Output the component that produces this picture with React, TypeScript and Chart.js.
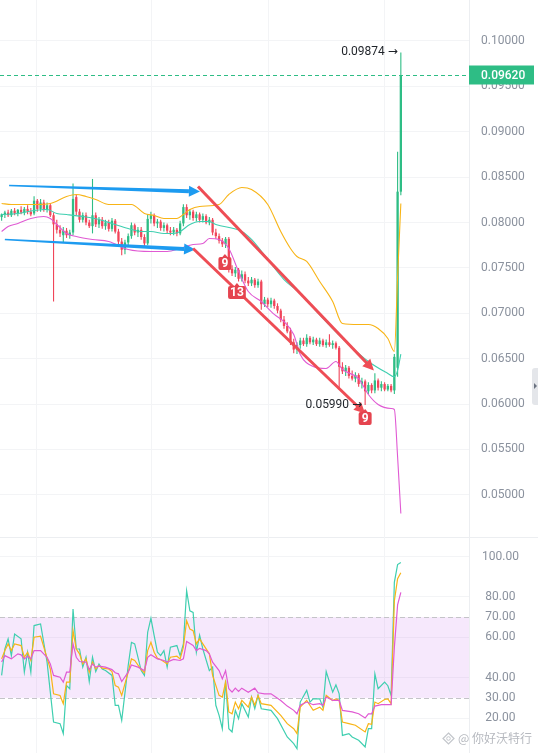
import React, { useEffect, useRef } from 'react';
import { Chart, registerables } from 'chart.js';

Chart.register(...registerables);

// ---------------- data ----------------
const opens = [
  0.0806, 0.0809, 0.0811, 0.0808, 0.0813, 0.0810, 0.0814, 0.0811, 0.0815, 0.0812,
  0.0810, 0.0824, 0.0815, 0.0822, 0.0814, 0.0819, 0.0808, 0.0798, 0.0792, 0.0786,
  0.0791, 0.0786, 0.0789, 0.0828, 0.0812, 0.0803, 0.0808, 0.0800, 0.0796, 0.0808,
  0.0798, 0.0803, 0.0796, 0.0800, 0.0793, 0.0802, 0.0790, 0.0779, 0.0770, 0.0778,
  0.0785, 0.0797, 0.0789, 0.0792, 0.0784, 0.0777, 0.0804, 0.0808, 0.0799, 0.0801,
  0.0794, 0.0797, 0.0791, 0.0789, 0.0792, 0.0788, 0.0799, 0.0817, 0.0808, 0.0812,
  0.0805, 0.0809, 0.0803, 0.0807, 0.0800, 0.0803, 0.0789, 0.0785, 0.0780, 0.0776,
  0.0782, 0.0749, 0.0744, 0.0748, 0.0738, 0.0743, 0.0736, 0.0733, 0.0737, 0.0731,
  0.0735, 0.0710, 0.0715, 0.0710, 0.0714, 0.0708, 0.0703, 0.0693, 0.0686, 0.0680,
  0.0668, 0.0660, 0.0665, 0.0670, 0.0666, 0.0673, 0.0668, 0.0671, 0.0666, 0.0670,
  0.0665, 0.0668, 0.0665, 0.0667, 0.0662, 0.0641, 0.0636, 0.0640, 0.0631, 0.0628,
  0.0632, 0.0622, 0.0625, 0.0614, 0.0621, 0.0615, 0.0626, 0.0618, 0.0622, 0.0616,
  0.0620, 0.0615, 0.0640, 0.0834,
];
const highs = [
  0.0810, 0.0813, 0.0814, 0.0815, 0.0816, 0.0815, 0.0818, 0.0817, 0.0819, 0.0816,
  0.0829, 0.0826, 0.0826, 0.0825, 0.0822, 0.0821, 0.0811, 0.0803, 0.0797, 0.0795,
  0.0794, 0.0792, 0.0843, 0.0831, 0.0815, 0.0811, 0.0811, 0.0803, 0.0848, 0.0811,
  0.0806, 0.0806, 0.0803, 0.0803, 0.0805, 0.0804, 0.0793, 0.0783, 0.0781, 0.0788,
  0.0800, 0.0799, 0.0795, 0.0795, 0.0787, 0.0809, 0.0812, 0.0810, 0.0804, 0.0803,
  0.0800, 0.0799, 0.0795, 0.0795, 0.0794, 0.0802, 0.0820, 0.0820, 0.0815, 0.0814,
  0.0812, 0.0811, 0.0810, 0.0809, 0.0806, 0.0805, 0.0793, 0.0788, 0.0783, 0.0784,
  0.0784, 0.0753, 0.0751, 0.0750, 0.0747, 0.0746, 0.0740, 0.0740, 0.0739, 0.0738,
  0.0737, 0.0718, 0.0717, 0.0717, 0.0716, 0.0711, 0.0705, 0.0697, 0.0690, 0.0684,
  0.0672, 0.0668, 0.0673, 0.0673, 0.0677, 0.0675, 0.0674, 0.0673, 0.0673, 0.0672,
  0.0671, 0.0677, 0.0670, 0.0669, 0.0664, 0.0646, 0.0643, 0.0642, 0.0637, 0.0635,
  0.0634, 0.0629, 0.0627, 0.0624, 0.0623, 0.0634, 0.0628, 0.0625, 0.0624, 0.0622,
  0.0622, 0.0655, 0.0878, 0.09874,
];
const lows = [
  0.0802, 0.0805, 0.0806, 0.0806, 0.0808, 0.0807, 0.0809, 0.0808, 0.0809, 0.0807,
  0.0808, 0.0812, 0.0812, 0.0812, 0.0811, 0.0806, 0.0713, 0.0788, 0.0784, 0.0778,
  0.0783, 0.0782, 0.0786, 0.0808, 0.0800, 0.0800, 0.0797, 0.0794, 0.0788, 0.0795,
  0.0794, 0.0793, 0.0792, 0.0790, 0.0790, 0.0788, 0.0776, 0.0764, 0.0765, 0.0774,
  0.0782, 0.0786, 0.0784, 0.0781, 0.0774, 0.0775, 0.0799, 0.0796, 0.0794, 0.0791,
  0.0790, 0.0788, 0.0786, 0.0786, 0.0785, 0.0786, 0.0796, 0.0805, 0.0803, 0.0802,
  0.0801, 0.0800, 0.0800, 0.0798, 0.0797, 0.0786, 0.0782, 0.0777, 0.0773, 0.0772,
  0.0745, 0.0741, 0.0740, 0.0735, 0.0735, 0.0733, 0.0730, 0.0730, 0.0728, 0.0728,
  0.0704, 0.0707, 0.0707, 0.0706, 0.0705, 0.0700, 0.0690, 0.0683, 0.0678, 0.0665,
  0.0656, 0.0655, 0.0661, 0.0664, 0.0663, 0.0666, 0.0665, 0.0664, 0.0663, 0.0663,
  0.0662, 0.0663, 0.0661, 0.0660, 0.0616, 0.0633, 0.0631, 0.0628, 0.0626, 0.0624,
  0.0619, 0.0617, 0.0599, 0.0611, 0.0612, 0.0612, 0.0615, 0.0614, 0.0614, 0.0614,
  0.0613, 0.0611, 0.0630, 0.0830,
];
const closes = [
  0.0809, 0.0811, 0.0808, 0.0813, 0.0810, 0.0814, 0.0811, 0.0815, 0.0812, 0.0809,
  0.0824, 0.0815, 0.0822, 0.0814, 0.0819, 0.0808, 0.0798, 0.0792, 0.0788, 0.0791,
  0.0786, 0.0789, 0.0826, 0.0812, 0.0803, 0.0808, 0.0800, 0.0796, 0.0808, 0.0798,
  0.0803, 0.0796, 0.0800, 0.0793, 0.0802, 0.0790, 0.0779, 0.0770, 0.0778, 0.0785,
  0.0797, 0.0789, 0.0792, 0.0784, 0.0777, 0.0804, 0.0808, 0.0799, 0.0801, 0.0794,
  0.0797, 0.0791, 0.0789, 0.0792, 0.0788, 0.0799, 0.0817, 0.0808, 0.0812, 0.0805,
  0.0809, 0.0803, 0.0807, 0.0800, 0.0803, 0.0789, 0.0785, 0.0780, 0.0776, 0.0782,
  0.0749, 0.0744, 0.0748, 0.0738, 0.0743, 0.0736, 0.0733, 0.0737, 0.0731, 0.0735,
  0.0710, 0.0715, 0.0710, 0.0714, 0.0708, 0.0703, 0.0693, 0.0686, 0.0680, 0.0668,
  0.0660, 0.0665, 0.0670, 0.0666, 0.0673, 0.0668, 0.0671, 0.0666, 0.0670, 0.0665,
  0.0668, 0.0665, 0.0667, 0.0662, 0.0641, 0.0636, 0.0640, 0.0631, 0.0628, 0.0632,
  0.0622, 0.0625, 0.0614, 0.0621, 0.0615, 0.0626, 0.0618, 0.0622, 0.0616, 0.0620,
  0.0615, 0.0652, 0.0834, 0.0962,
];

// Bollinger bands: [candle index, price]
const bollUpper = [
  [0, 0.0821], [3, 0.08199], [6, 0.08199], [10, 0.08199], [15, 0.0821], [20, 0.08287],
  [23, 0.08309], [26, 0.08287], [29, 0.08254], [33, 0.08199], [37, 0.08199], [40, 0.08199],
  [44, 0.081], [47, 0.08077], [50, 0.08045], [54, 0.08045], [56, 0.08088], [58, 0.08143],
  [61, 0.08177], [67, 0.08199], [70, 0.08309], [74, 0.08386], [77, 0.08364], [82, 0.08199],
  [86, 0.07901], [89, 0.07714], [91, 0.07626], [94, 0.07571], [98, 0.0735], [102, 0.0713],
  [105, 0.06887], [110, 0.06876], [113, 0.06876], [116, 0.06832], [119, 0.06722],
  [121, 0.0658], [122, 0.074], [123, 0.0821],
];
const bollMiddle = [
  [0, 0.08088], [5, 0.08099], [10, 0.08132], [14, 0.08143], [17, 0.08099], [20, 0.08088],
  [25, 0.08066], [30, 0.08033], [34, 0.07989], [39, 0.07934], [43, 0.07901], [46, 0.07901],
  [50, 0.07879], [53, 0.07879], [55, 0.07901], [58, 0.07978], [61, 0.08011], [64, 0.08011],
  [66, 0.07978], [74, 0.07901], [77, 0.07813], [82, 0.07593], [87, 0.07372], [92, 0.07218],
  [97, 0.0702], [102, 0.06832], [107, 0.06656], [113, 0.06469], [119, 0.06337],
  [121, 0.063], [122, 0.0637], [123, 0.0655],
];
const bollLower = [
  [0, 0.07901], [2, 0.07956], [5, 0.07989], [9, 0.08044], [13, 0.08066], [15, 0.08044],
  [17, 0.07978], [20, 0.07879], [23, 0.07846], [28, 0.07813], [33, 0.07791], [39, 0.07703],
  [46, 0.07681], [51, 0.07681], [55, 0.07714], [59, 0.07758], [62, 0.07769], [64, 0.07824],
  [67, 0.07813], [70, 0.07714], [73, 0.0746], [76, 0.0724], [80, 0.0713], [84, 0.06987],
  [87, 0.06909], [90, 0.06766], [92, 0.06546], [96, 0.06414], [100, 0.06392], [103, 0.06469],
  [105, 0.06381], [110, 0.06281], [113, 0.06105], [116, 0.05995], [120, 0.05951],
  [121, 0.0594], [122, 0.0542], [123, 0.04794],
];

// RSI lines: [candle index, value]
const rsiFast = [
  [0, 41.1], [1, 54.2], [2, 59.2], [3, 50.9], [4, 61.6], [6, 59.2], [7, 42.7], [8, 52.6], [9, 42.7],
  [10, 65.8], [12, 66.6], [14, 47.7], [15, 32.8], [16, 18.0], [18, 17.2], [19, 12.3], [20, 36.1],
  [21, 34.5], [22, 74.0], [23, 54.2], [24, 54.2], [25, 45.2], [26, 50.1], [27, 38.1], [28, 50.1],
  [29, 43.0], [30, 46.8], [31, 44.3], [32, 43.5], [34, 41.1], [35, 26.3], [36, 26.3], [37, 18.8],
  [39, 46.0], [40, 57.5], [41, 56.7], [43, 43.5], [44, 41.1], [45, 62.5], [46, 69.4], [47, 60.8],
  [48, 52.6], [49, 50.9], [50, 53.4], [51, 45.2], [52, 55.1], [54, 55.9], [55, 50.9], [56, 56.7],
  [57, 83.1], [58, 73.1], [59, 72.3], [60, 52.6], [61, 61.1], [62, 54.2], [64, 43.5], [65, 45.2],
  [66, 26.3], [67, 21.3], [68, 14.7], [69, 38.6], [70, 14.7], [71, 13.1], [72, 23.8], [73, 19.7],
  [74, 27.1], [76, 20.5], [77, 30.4], [78, 24.6], [79, 31.2], [80, 24.6], [83, 23.8], [85, 19.7],
  [88, 10.6], [90, 7.3], [91, 4.8], [92, 27.9], [94, 33.7], [95, 27.9], [96, 29.5], [98, 29.5],
  [99, 25.4], [100, 43.0], [102, 32.8], [103, 36.4], [104, 32.0], [105, 11.4], [107, 12.3],
  [108, 10.6], [110, 9.0], [112, 5.7], [113, 14.7], [114, 14.7], [115, 41.9], [116, 34.5],
  [118, 37.8], [119, 36.0], [120, 31.2], [121, 87.2], [122, 96.0], [123, 97.0],
];
const rsiMid = [
  [0, 49.3], [1, 53.4], [2, 56.7], [3, 53.4], [4, 56.7], [6, 55.9], [7, 50.1], [8, 52.6], [9, 48.5],
  [10, 60.0], [12, 60.5], [13, 55.1], [15, 44.3], [16, 32.0], [18, 31.2], [19, 27.1], [20, 37.8],
  [21, 37.8], [22, 63.3], [23, 54.2], [24, 51.8], [25, 46.8], [26, 49.3], [27, 42.7], [28, 47.7],
  [29, 44.3], [30, 46.0], [31, 44.7], [33, 44.3], [34, 43.0], [35, 36.1], [36, 35.3], [37, 31.2],
  [39, 42.7], [40, 49.3], [41, 48.5], [43, 44.0], [44, 42.4], [45, 53.4], [46, 57.5], [47, 52.6],
  [48, 49.6], [49, 49.0], [51, 46.8], [52, 50.1], [54, 50.6], [55, 49.3], [56, 55.1], [57, 68.2],
  [58, 64.1], [59, 63.3], [60, 56.7], [61, 59.2], [62, 56.7], [64, 51.8], [65, 41.1], [67, 31.2],
  [68, 30.4], [69, 37.8], [70, 23.0], [71, 22.1], [72, 27.9], [73, 24.6], [74, 28.7], [76, 25.4],
  [77, 30.4], [78, 26.3], [79, 31.2], [80, 27.1], [83, 26.3], [86, 21.3], [88, 17.2], [90, 14.7],
  [91, 12.3], [92, 25.4], [94, 28.7], [96, 23.8], [98, 25.4], [99, 23.8], [100, 31.2], [102, 28.7],
  [103, 29.5], [104, 28.7], [105, 18.0], [107, 17.2], [109, 16.4], [112, 13.1], [113, 17.2],
  [114, 16.9], [115, 27.9], [116, 27.1], [118, 29.2], [119, 29.5], [120, 27.1], [121, 78.0],
  [122, 89.0], [123, 92.0],
];
const rsiSlow = [
  [0, 47.7], [1, 50.9], [3, 49.3], [5, 51.8], [6, 51.3], [7, 49.3], [8, 50.6], [9, 49.3], [10, 53.4],
  [12, 53.4], [14, 50.1], [15, 46.8], [16, 41.1], [18, 40.2], [19, 37.8], [20, 42.7], [21, 42.7],
  [22, 56.7], [23, 50.1], [24, 48.0], [26, 47.7], [27, 44.0], [28, 46.8], [29, 45.2], [30, 45.7],
  [32, 45.2], [34, 44.0], [35, 42.4], [36, 41.9], [37, 38.1], [39, 42.7], [40, 46.3], [42, 45.2],
  [44, 43.5], [45, 50.1], [46, 51.3], [48, 49.3], [50, 48.5], [51, 47.7], [53, 49.0], [55, 48.5],
  [56, 49.3], [57, 57.9], [59, 55.9], [60, 53.4], [61, 54.5], [63, 53.4], [64, 51.8], [65, 47.7],
  [67, 43.5], [68, 39.4], [69, 43.5], [70, 34.5], [71, 32.8], [72, 34.8], [73, 33.2], [74, 34.8],
  [76, 32.8], [78, 34.8], [79, 32.5], [81, 32.0], [83, 32.0], [86, 28.7], [88, 25.9], [90, 23.8],
  [91, 22.1], [92, 26.3], [94, 27.9], [96, 26.6], [98, 27.1], [99, 26.3], [100, 30.4], [102, 28.7],
  [104, 28.7], [105, 23.8], [108, 23.0], [110, 22.1], [112, 20.0], [113, 22.1], [114, 22.1],
  [115, 25.9], [117, 26.6], [120, 26.6], [121, 55.0], [122, 76.0], [123, 82.2],
];

const priceTicks = [0.05, 0.055, 0.06, 0.065, 0.07, 0.075, 0.08, 0.085, 0.09, 0.095, 0.1];
const rsiTicks = [20, 30, 40, 60, 70, 80, 100];
const rsiBand = [30, 70];
const timeGrid = [10.8, 46.2, 82.1, 118.1];
const lastPrice = 0.0962;

const extremes = [
  { idx: 123, price: 0.09874, text: '0.09874' },
  { idx: 112, price: 0.0599, text: '0.05990' },
];
// drawn trend arrows, in data units [index, price]
const trendLines = [
  { from: [2.3, 0.08408], to: [61.1, 0.08342], kind: 'blue' },
  { from: [1.0, 0.07813], to: [59.6, 0.07703], kind: 'blue' },
  { from: [60.5, 0.08397], to: [114.7, 0.0637], kind: 'red' },
  { from: [59.0, 0.07714], to: [112.0, 0.05896], kind: 'red' },
];
const tdTags = [
  { idx: 68.8, price: 0.07548, text: '9' },
  { idx: 72.5, price: 0.07229, text: '13' },
  { idx: 112, price: 0.05841, text: '9' },
];

const PRICE_MIN = 0.04535;
const PRICE_MAX = 0.104517;
const RSI_MIN = 2.67;
const RSI_MAX = 109.67;
const X_MIN = -0.5;
const X_MAX = 144;

// ---------------- style ----------------
const UP = '#2ebd85';
const DOWN = '#f0465a';
const YELLOW = '#f8b416';
const TEAL = '#3fcfb0';
const PINK = '#e05ad3';
const BLUE = '#1d9bf0';
const RED_LINE = '#ee4d55';
const TAG = '#e5444f';
const GRID = '#f3f4f6';
const AXIS_LINE = '#eceef1';
const TICK = '#8b929e';
const FONT = "Roboto, 'DejaVu Sans', sans-serif";

Chart.defaults.font.family = FONT;

function drawArrow(ctx: any, x0: number, y0: number, x1: number, y1: number, kind: string) {
  const ang = Math.atan2(y1 - y0, x1 - x0);
  const cos = Math.cos(ang);
  const sin = Math.sin(ang);
  const headLen = 11;
  const headHalf = 5.5;
  const bx = x1 - headLen * cos;
  const by = y1 - headLen * sin;
  const color = kind === 'blue' ? BLUE : RED_LINE;
  ctx.fillStyle = color;
  if (kind === 'blue') {
    const w0 = 0.8;
    const w1 = 2.0;
    ctx.beginPath();
    ctx.moveTo(x0 + w0 * sin, y0 - w0 * cos);
    ctx.lineTo(bx + w1 * sin, by - w1 * cos);
    ctx.lineTo(bx - w1 * sin, by + w1 * cos);
    ctx.lineTo(x0 - w0 * sin, y0 + w0 * cos);
    ctx.closePath();
    ctx.fill();
  } else {
    ctx.strokeStyle = color;
    ctx.lineWidth = 3;
    ctx.lineCap = 'butt';
    ctx.beginPath();
    ctx.moveTo(x0, y0);
    ctx.lineTo(bx + 2 * cos, by + 2 * sin);
    ctx.stroke();
  }
  ctx.beginPath();
  ctx.moveTo(x1, y1);
  ctx.lineTo(bx + headHalf * sin, by - headHalf * cos);
  ctx.lineTo(bx - headHalf * sin, by + headHalf * cos);
  ctx.closePath();
  ctx.fill();
}

function roundRect(ctx: any, x: number, y: number, w: number, h: number, r: number) {
  ctx.beginPath();
  ctx.moveTo(x + r, y);
  ctx.lineTo(x + w - r, y);
  ctx.quadraticCurveTo(x + w, y, x + w, y + r);
  ctx.lineTo(x + w, y + h - r);
  ctx.quadraticCurveTo(x + w, y + h, x + w - r, y + h);
  ctx.lineTo(x + r, y + h);
  ctx.quadraticCurveTo(x, y + h, x, y + h - r);
  ctx.lineTo(x, y + r);
  ctx.quadraticCurveTo(x, y, x + r, y);
  ctx.closePath();
}

const mainOverlay = {
  id: 'mainOverlay',
  afterDraw(chart: any) {
    const { ctx, chartArea: a } = chart;
    const xs = chart.scales.x;
    const ys = chart.scales.y;
    ctx.save();
    ctx.beginPath();
    ctx.rect(a.left, a.top, a.right - a.left, a.bottom - a.top);
    ctx.clip();
    trendLines.forEach((t) => {
      drawArrow(
        ctx,
        xs.getPixelForValue(t.from[0]),
        ys.getPixelForValue(t.from[1]),
        xs.getPixelForValue(t.to[0]),
        ys.getPixelForValue(t.to[1]),
        t.kind,
      );
    });
    // TD sequential tags
    tdTags.forEach((t) => {
      const cx = xs.getPixelForValue(t.idx);
      const cy = ys.getPixelForValue(t.price);
      ctx.font = `bold 12px ${FONT}`;
      const tw = ctx.measureText(t.text).width;
      const w = Math.max(13, tw + 4);
      const h = 13;
      const x = cx - w / 2;
      const y = cy - h / 2;
      ctx.fillStyle = TAG;
      roundRect(ctx, x, y, w, h, 2);
      ctx.fill();
      ctx.beginPath();
      ctx.moveTo(cx - 3, y + 0.5);
      ctx.lineTo(cx, y - 3);
      ctx.lineTo(cx + 3, y + 0.5);
      ctx.closePath();
      ctx.fill();
      ctx.fillStyle = '#ffffff';
      ctx.textAlign = 'center';
      ctx.textBaseline = 'middle';
      ctx.fillText(t.text, cx, cy + 0.5);
    });
    // extreme price labels
    ctx.font = `12px ${FONT}`;
    ctx.fillStyle = '#1f2329';
    ctx.textAlign = 'right';
    ctx.textBaseline = 'middle';
    extremes.forEach((e) => {
      const x = xs.getPixelForValue(e.idx) - 3;
      const y = ys.getPixelForValue(e.price);
      ctx.fillText(`${e.text} →`, x, y);
    });
    // last price dashed line
    const ly = Math.round(ys.getPixelForValue(lastPrice)) + 0.5;
    ctx.strokeStyle = UP;
    ctx.lineWidth = 1;
    ctx.setLineDash([4, 3]);
    ctx.beginPath();
    ctx.moveTo(a.left, ly);
    ctx.lineTo(a.right, ly);
    ctx.stroke();
    ctx.setLineDash([]);
    ctx.restore();
    // last price box on axis
    ctx.save();
    ctx.fillStyle = UP;
    ctx.fillRect(a.right, ly - 10, 65, 19);
    ctx.fillStyle = '#ffffff';
    ctx.font = `500 12px ${FONT}`;
    ctx.textAlign = 'left';
    ctx.textBaseline = 'middle';
    ctx.fillText(lastPrice.toFixed(5), a.right + 12, ly);
    ctx.restore();
  },
};

const rsiOverlay = {
  id: 'rsiOverlay',
  beforeDatasetsDraw(chart: any) {
    const { ctx, chartArea: a } = chart;
    const ys = chart.scales.y;
    const yTop = ys.getPixelForValue(rsiBand[1]);
    const yBot = ys.getPixelForValue(rsiBand[0]);
    ctx.save();
    ctx.fillStyle = 'rgba(200,120,240,0.17)';
    ctx.fillRect(a.left, yTop, a.right - a.left, yBot - yTop);
    ctx.strokeStyle = '#c4c4c8';
    ctx.lineWidth = 1;
    ctx.setLineDash([5, 3]);
    rsiBand.forEach((v) => {
      const y = Math.round(ys.getPixelForValue(v)) + 0.5;
      ctx.beginPath();
      ctx.moveTo(a.left, y);
      ctx.lineTo(a.right, y);
      ctx.stroke();
    });
    ctx.restore();
  },
};

function xAxisOpts() {
  return {
    type: 'linear',
    min: X_MIN,
    max: X_MAX,
    offset: false,
    grid: { color: GRID, drawTicks: false, offset: false },
    border: { display: false },
    ticks: { display: false },
    afterBuildTicks: (s: any) => {
      s.ticks = timeGrid.map((v) => ({ value: v }));
    },
    afterFit: (s: any) => {
      s.height = 0;
      s.paddingLeft = 0;
      s.paddingRight = 0;
    },
  };
}

const toPts = (arr: number[][]) => arr.map(([x, y]) => ({ x, y }));

function buildMain(canvas: HTMLCanvasElement) {
  const idx = opens.map((_, i) => i);
  const colors = idx.map((i) => (closes[i] >= opens[i] ? UP : DOWN));
  const lineDs = (data: number[][], color: string) => ({
    type: 'line',
    data: toPts(data),
    borderColor: color,
    borderWidth: 1.1,
    pointRadius: 0,
    cubicInterpolationMode: 'monotone',
    fill: false,
    order: 0,
  });
  return new Chart(canvas, {
    type: 'bar',
    data: {
      datasets: [
        lineDs(bollUpper, YELLOW),
        lineDs(bollMiddle, TEAL),
        lineDs(bollLower, PINK),
        {
          type: 'bar',
          data: idx.map((i) => ({ x: i, y: [opens[i], closes[i]] })),
          backgroundColor: colors,
          barThickness: 2.3,
          grouped: false,
          inflateAmount: 0,
          order: 1,
        },
        {
          type: 'bar',
          data: idx.map((i) => ({ x: i, y: [lows[i], highs[i]] })),
          backgroundColor: colors,
          barThickness: 1.1,
          grouped: false,
          inflateAmount: 0,
          order: 2,
        },
      ],
    } as any,
    options: {
      responsive: false,
      animation: false,
      devicePixelRatio: 1,
      events: [],
      layout: { padding: 0 },
      plugins: { legend: { display: false }, tooltip: { enabled: false } },
      scales: {
        x: xAxisOpts(),
        y: {
          position: 'right',
          min: PRICE_MIN,
          max: PRICE_MAX,
          grid: { color: GRID, drawTicks: false },
          border: { display: true, color: AXIS_LINE },
          ticks: {
            color: TICK,
            font: { size: 12, family: FONT },
            padding: 12,
            callback: (v: any) => Number(v).toFixed(5),
          },
          afterBuildTicks: (s: any) => {
            s.ticks = priceTicks.map((v) => ({ value: v }));
          },
          afterFit: (s: any) => {
            s.width = 69;
            s.paddingTop = 0;
            s.paddingBottom = 0;
          },
        },
      },
    } as any,
    plugins: [mainOverlay],
  });
}

function buildRsi(canvas: HTMLCanvasElement) {
  const ds = (data: number[][], color: string, order: number) => ({
    data: toPts(data),
    borderColor: color,
    borderWidth: 1.2,
    pointRadius: 0,
    tension: 0,
    fill: false,
    order,
  });
  return new Chart(canvas, {
    type: 'line',
    data: {
      datasets: [ds(rsiSlow, PINK, 0), ds(rsiMid, YELLOW, 1), ds(rsiFast, TEAL, 2)],
    } as any,
    options: {
      responsive: false,
      animation: false,
      devicePixelRatio: 1,
      events: [],
      layout: { padding: 0 },
      plugins: { legend: { display: false }, tooltip: { enabled: false } },
      scales: {
        x: xAxisOpts(),
        y: {
          position: 'right',
          min: RSI_MIN,
          max: RSI_MAX,
          grid: {
            color: (c: any) => (c.tick && rsiBand.includes(c.tick.value) ? 'rgba(0,0,0,0)' : GRID),
            drawTicks: false,
          },
          border: { display: true, color: AXIS_LINE },
          ticks: {
            color: TICK,
            font: { size: 12, family: FONT },
            padding: 13,
            crossAlign: 'center',
            callback: (v: any) => Number(v).toFixed(2),
          },
          afterBuildTicks: (s: any) => {
            s.ticks = rsiTicks.map((v) => ({ value: v }));
          },
          afterFit: (s: any) => {
            s.width = 69;
            s.paddingTop = 0;
            s.paddingBottom = 0;
          },
        },
      },
    } as any,
    plugins: [rsiOverlay],
  });
}

export default function App() {
  const mainRef = useRef<HTMLCanvasElement>(null);
  const rsiRef = useRef<HTMLCanvasElement>(null);

  useEffect(() => {
    document.body.style.margin = '0';
    const charts: Chart[] = [];
    if (mainRef.current) charts.push(buildMain(mainRef.current));
    if (rsiRef.current) charts.push(buildRsi(rsiRef.current));
    return () => charts.forEach((c) => c.destroy());
  }, []);

  return (
    <div style={{ position: 'relative', width: 538, height: 753, background: '#ffffff', overflow: 'hidden' }}>
      <style>{'body{margin:0}'}</style>
      <canvas
        ref={mainRef}
        width={538}
        height={537}
        style={{ position: 'absolute', left: 0, top: 0, width: 538, height: 537 }}
      />
      <div style={{ position: 'absolute', left: 0, top: 537, width: 538, height: 1, background: AXIS_LINE }} />
      <canvas
        ref={rsiRef}
        width={538}
        height={216}
        style={{ position: 'absolute', left: 0, top: 537, width: 538, height: 216 }}
      />
      <div
        style={{
          position: 'absolute',
          left: 532,
          top: 368,
          width: 6,
          height: 37,
          background: '#e4e6ea',
          borderRadius: '3px 0 0 3px',
        }}
      >
        <div
          style={{
            position: 'absolute',
            left: 2,
            top: 15,
            width: 0,
            height: 0,
            borderTop: '3px solid transparent',
            borderBottom: '3px solid transparent',
            borderLeft: '3px solid #6b7280',
          }}
        />
      </div>
      <div
        style={{
          position: 'absolute',
          left: 442,
          top: 730,
          display: 'flex',
          alignItems: 'center',
          gap: 3,
          color: '#b6b9bf',
          fontSize: 12,
          lineHeight: '16px',
          fontFamily: "'Noto Sans CJK SC', 'Noto Sans', sans-serif",
          whiteSpace: 'nowrap',
        }}
      >
        <svg width="13" height="13" viewBox="0 0 13 13">
          <path d="M6.5 1 L12 6.5 L6.5 12 L1 6.5 Z" fill="none" stroke="#c3c6cb" strokeWidth="1.2" />
          <circle cx="6.5" cy="6.5" r="1.8" fill="none" stroke="#c3c6cb" strokeWidth="1" />
        </svg>
        <span>@ 你好沃特行</span>
      </div>
    </div>
  );
}
